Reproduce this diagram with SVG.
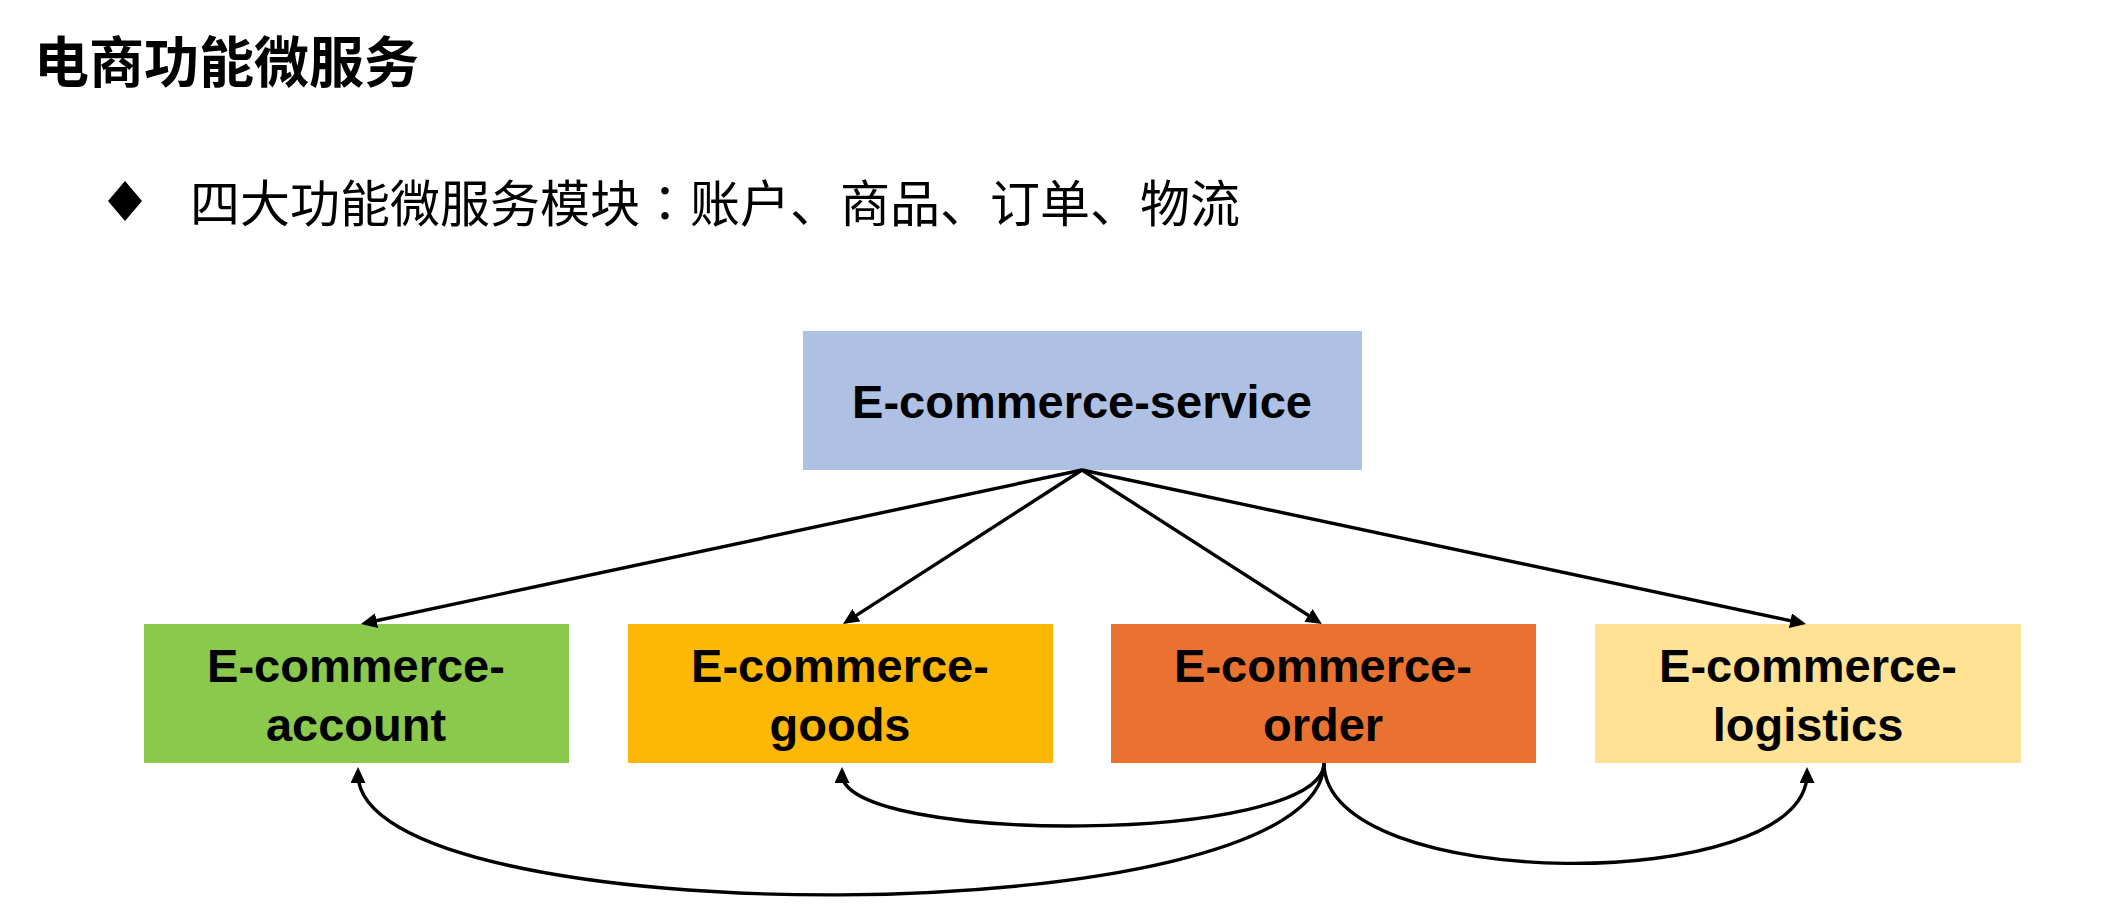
<svg xmlns="http://www.w3.org/2000/svg" width="2112" height="906" viewBox="0 0 2112 906">
  <style>
    .cjk { font-family: "Noto Sans CJK SC", "Noto Sans", sans-serif; fill: #000; }
    .title { font-size: 55px; font-weight: bold; }
    .bullet { font-size: 50px; }
    .tc { font-family: "Noto Sans CJK TC", "Noto Sans CJK SC", sans-serif; }
    .lbl { font-family: "Liberation Sans", Arial, sans-serif; font-weight: bold; font-size: 47px; fill: #000; text-anchor: middle; }
    .conn { fill: none; stroke: #000; stroke-width: 3.4; }
  </style>
  <defs>
    <marker id="arrow" markerUnits="userSpaceOnUse" markerWidth="18" markerHeight="16" refX="9" refY="7.5" orient="auto">
      <path d="M0,0 L16,7.5 L0,15 z" fill="#000"/>
    </marker>
  </defs>
  <rect width="2112" height="906" fill="#fff"/>

  <g id="header">
    <text class="cjk title" x="34" y="82">电商功能微服务</text>
    <polygon points="125,181 142,201 125,221 108,201" fill="#000"/>
    <text class="cjk bullet" x="190" y="222">四大功能微服务模块<tspan class="tc">：</tspan>账户、商品、订单、物流</text>
  </g>

  <g id="node-service">
    <rect x="803" y="331" width="559" height="139" fill="#AEC1E4"/>
    <text class="lbl" x="1082" y="418">E-commerce-service</text>
  </g>
  <g id="node-account">
    <rect x="144" y="624" width="425" height="139" fill="#8BC94C"/>
    <text class="lbl" x="356" y="682">E-commerce-</text>
    <text class="lbl" x="356" y="741">account</text>
  </g>
  <g id="node-goods">
    <rect x="628" y="624" width="425" height="139" fill="#FDB705"/>
    <text class="lbl" x="840" y="682">E-commerce-</text>
    <text class="lbl" x="840" y="741">goods</text>
  </g>
  <g id="node-order">
    <rect x="1111" y="624" width="425" height="139" fill="#E97231"/>
    <text class="lbl" x="1323" y="682">E-commerce-</text>
    <text class="lbl" x="1323" y="741">order</text>
  </g>
  <g id="node-logistics">
    <rect x="1595" y="624" width="426" height="139" fill="#FFE293"/>
    <text class="lbl" x="1808" y="682">E-commerce-</text>
    <text class="lbl" x="1808" y="741">logistics</text>
  </g>

  <g id="connectors">
    <path class="conn" d="M1082,470 L367.8,622.5" marker-end="url(#arrow)"/>
    <path class="conn" d="M1082,470 L848.9,620.1" marker-end="url(#arrow)"/>
    <path class="conn" d="M1082,470 L1316,620.2" marker-end="url(#arrow)"/>
    <path class="conn" d="M1082,470 L1799.2,622.6" marker-end="url(#arrow)"/>
    <path class="conn" d="M1324,763 C1324,845 842,845 842,774" marker-end="url(#arrow)"/>
    <path class="conn" d="M1324,763 C1324,937 358,937 358,774" marker-end="url(#arrow)"/>
    <path class="conn" d="M1324,763 C1324,895 1807,895 1807,774" marker-end="url(#arrow)"/>
  </g>
</svg>
